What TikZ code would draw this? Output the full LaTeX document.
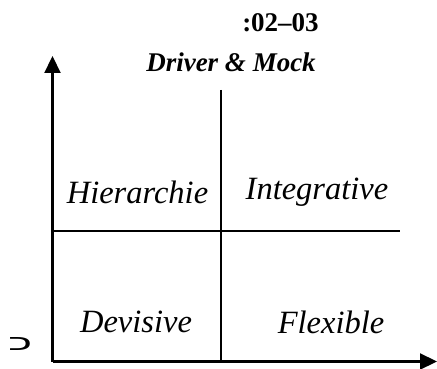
\documentclass[tikz,border=0pt]{standalone}
\usepackage{fontspec}
\setmainfont{Liberation Serif}
\newfontfamily\hebfont[Script=Hebrew]{Liberation Sans}
\usetikzlibrary{arrows.meta}
\begin{document}
\begin{tikzpicture}[x=1pt,y=-1pt,
  axis/.style={line width=2.2pt,-{Triangle[length=17pt,width=16pt]}},
  divline/.style={line width=2pt},
  quad/.style={font=\fontsize{32.5}{38}\selectfont\itshape,inner sep=0pt},
  ttl/.style={font=\fontsize{27}{32}\selectfont\bfseries\itshape,inner sep=0pt}]
\useasboundingbox (0,0) rectangle (437,369);
\coordinate (O) at (52.5,361.5);
\coordinate (Ytop) at (52.5,56);
\coordinate (Xend) at (437,361.5);
\coordinate (Vtop) at (221,90);
\coordinate (Vbot) at (221,361.5);
\coordinate (Hl) at (52.5,231);
\coordinate (Hr) at (400,231);
\draw[axis] (O) -- (Ytop);
\draw[axis] (O) -- (Xend);
\draw[divline] (Vtop) -- (Vbot);
\draw[divline] (Hl) -- (Hr);
\node[font=\fontsize{27}{32}\selectfont\bfseries,inner sep=0pt] (date) at (280.5,23) {:02–03};
\node[ttl] (title) at (231,62) {Driver \& Mock};
\node[quad] (hier) at (137.5,192) {Hierarchie};
\node[quad] (integ) at (317,192) {Integrative};
\node[quad] (devis) at (136,322) {Devisive};
\node[quad] (flex) at (331,322) {Flexible};
\node[inner sep=0pt] (ylab) at (20.5,344) {\resizebox{24pt}{13pt}{\hebfont כ}};
\end{tikzpicture}
\end{document}
